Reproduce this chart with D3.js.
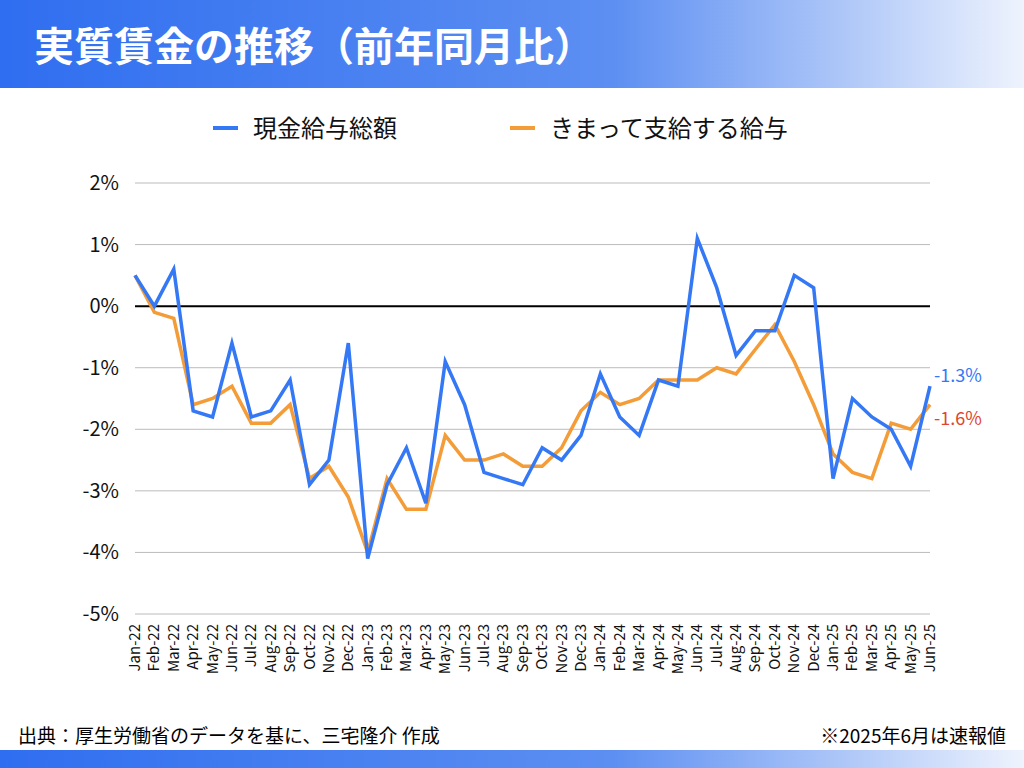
<!DOCTYPE html><html><head><meta charset="utf-8"><script src="https://cdn.jsdelivr.net/npm/d3@7"></script>
<style>body{margin:0;background:#fff}svg{display:block;font-family:"Noto Sans CJK JP","Noto Sans",sans-serif}</style></head><body><svg id="c" width="1024" height="768"></svg><script>
const months=["Jan-22","Feb-22","Mar-22","Apr-22","May-22","Jun-22","Jul-22","Aug-22","Sep-22","Oct-22","Nov-22","Dec-22","Jan-23","Feb-23","Mar-23","Apr-23","May-23","Jun-23","Jul-23","Aug-23","Sep-23","Oct-23","Nov-23","Dec-23","Jan-24","Feb-24","Mar-24","Apr-24","May-24","Jun-24","Jul-24","Aug-24","Sep-24","Oct-24","Nov-24","Dec-24","Jan-25","Feb-25","Mar-25","Apr-25","May-25","Jun-25"];
const total=[0.5,0.0,0.6,-1.7,-1.8,-0.6,-1.8,-1.7,-1.2,-2.9,-2.5,-0.6,-4.1,-2.9,-2.3,-3.2,-0.9,-1.6,-2.7,-2.8,-2.9,-2.3,-2.5,-2.1,-1.1,-1.8,-2.1,-1.2,-1.3,1.1,0.3,-0.8,-0.4,-0.4,0.5,0.3,-2.8,-1.5,-1.8,-2.0,-2.6,-1.3];
const fixed=[0.5,-0.1,-0.2,-1.6,-1.5,-1.3,-1.9,-1.9,-1.6,-2.8,-2.6,-3.1,-4.0,-2.8,-3.3,-3.3,-2.1,-2.5,-2.5,-2.4,-2.6,-2.6,-2.3,-1.7,-1.4,-1.6,-1.5,-1.2,-1.2,-1.2,-1.0,-1.1,-0.7,-0.3,-0.9,-1.6,-2.4,-2.7,-2.8,-1.9,-2.0,-1.6];
const yTicks=[2,1,0,-1,-2,-3,-4,-5];
const names=["現金給与総額","きまって支給する給与"];
const colors=["#3478f6","#f39c38"];
const svg=d3.select("#c");
const defs=svg.append("defs");
const g1=defs.append("linearGradient").attr("id","tg");
g1.append("stop").attr("offset","0").attr("stop-color","#2f6ef0");
g1.append("stop").attr("offset","0.6").attr("stop-color","#5d8ff2");
g1.append("stop").attr("offset","1").attr("stop-color","#eef3fd");
svg.append("rect").attr("x",0).attr("y",0).attr("width",1024).attr("height",88).attr("fill","url(#tg)");
svg.append("rect").attr("x",0).attr("y",750).attr("width",1024).attr("height",18).attr("fill","url(#tg)");
svg.append("text").attr("x",34).attr("y",61).attr("fill","#fff").attr("font-size",40).attr("font-weight",700).text("実質賃金の推移（前年同月比）");
const x=d3.scalePoint().domain(months).range([135,930]);
const y=d3.scaleLinear().domain([-5,2]).range([614,183]);
svg.append("g").selectAll("line").data(yTicks).join("line").attr("x1",135).attr("x2",930).attr("y1",d=>y(d)).attr("y2",d=>y(d)).attr("stroke",d=>d===0?"#000":"#bbb").attr("stroke-width",d=>d===0?2:1);
svg.append("g").selectAll("text").data(yTicks).join("text").attr("x",119).attr("y",d=>y(d)+7).attr("text-anchor","end").attr("font-size",20).attr("fill","#111").text(d=>d+"%");
svg.append("g").selectAll("text").data(months).join("text").attr("transform",d=>`translate(${x(d)+5},624) rotate(-90)`).attr("text-anchor","end").attr("font-size",15).attr("fill","#111").text(d=>d);
const line=d3.line().x((d,i)=>x(months[i])).y(d=>y(d));
[fixed,total].forEach((s,k)=>{const c=k===0?colors[1]:colors[0];
svg.append("path").attr("d",line(s)).attr("fill","none").attr("stroke",c).attr("stroke-width",3.5).attr("stroke-linejoin","miter");});
svg.append("text").attr("x",934).attr("y",y(total[41])-4).attr("font-size",18).attr("fill",colors[0]).text(total[41]+"%");
svg.append("text").attr("x",934).attr("y",y(fixed[41])+20).attr("font-size",18).attr("fill","#e0452f").text(fixed[41]+"%");
const lx=[213,510];
names.forEach((n,i)=>{svg.append("line").attr("x1",lx[i]).attr("x2",lx[i]+25).attr("y1",128).attr("y2",128).attr("stroke",colors[i]).attr("stroke-width",4);
svg.append("text").attr("x",lx[i]+40).attr("y",137).attr("font-size",24).attr("fill","#111").text(n);});
svg.append("text").attr("x",18).attr("y",743).attr("font-size",19).attr("fill","#000").text("出典：厚生労働省のデータを基に、三宅隆介 作成");
svg.append("text").attr("x",1006).attr("y",743).attr("text-anchor","end").attr("font-size",19).attr("fill","#000").text("※2025年6月は速報値");
</script></body></html>
